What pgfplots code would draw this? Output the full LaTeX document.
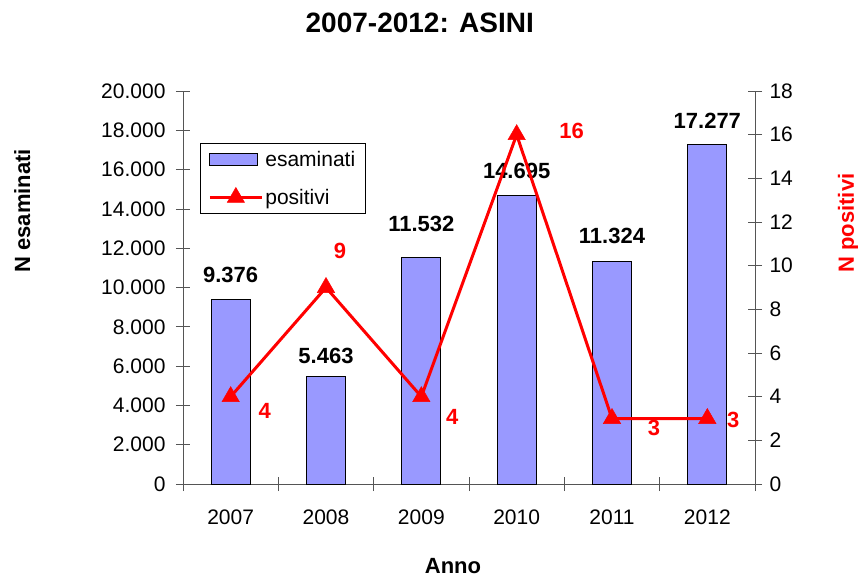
\documentclass[border=0pt]{standalone}
\usepackage{fontspec}
\setmainfont{Liberation Sans}
\usepackage{pgfplots}
\usepackage{pgfplotstable}
\pgfplotsset{compat=1.18}
\definecolor{barblue}{HTML}{9999FF}
\definecolor{axisgray}{HTML}{555555}

% year index, value, label offsets (pt)
\pgfplotstableread{
x y dx dy
0 9376 0 17
1 5463 0 12
2 11532 0 25
3 14695 0 16
4 11324 0 17
5 17277 0 16
}\esaminati

\pgfplotstableread{
x y dx dy
0 4 34 -14
1 9 14 37
2 4 31 -20
3 16 55 4
4 3 42 -9
5 3 26 -1
}\positivi

\pgfplotsset{
  common/.style={
    scale only axis, width=572pt, height=393pt,
    xmin=-0.5, xmax=5.5,
    tick align=center, major tick length=14pt,
    tick style={axisgray, line width=0.8pt},
    axis line style={-, axisgray, line width=0.8pt},
    tick label style={font=\fontsize{21}{25}\selectfont},
    /pgf/number format/assume math mode=true,
  },
  barlegend/.style={legend image code/.code={%
    \draw[##1] (0pt,-6pt) rectangle (48pt,6pt);}},
  linelegend/.style={legend image code/.code={%
    \draw[##1, mark repeat=2, mark phase=2]
      plot coordinates {(0pt,0pt) (26pt,0pt) (52pt,0pt)};}},
}

\begin{document}
\begin{tikzpicture}
\begin{axis}[common,
    axis x line*=bottom, axis y line*=left,
    ymin=0, ymax=20000, ytick={0,2000,...,20000},
    scaled y ticks=false,
    yticklabel style={/pgf/number format/.cd, fixed, 1000 sep={.}},
    yticklabel shift=7pt,
    xtick={-0.5,0.5,...,5.5}, xticklabels={},
    extra x ticks={0,1,2,3,4,5},
    extra x tick labels={2007,2008,2009,2010,2011,2012},
    extra x tick style={major tick length=0pt},
    xticklabel shift=22pt,
    title={\bfseries 2007-2012: ASINI},
    title style={at={(axis description cs:0.414,1.158)}, anchor=center,
      font=\fontsize{28}{32}\selectfont},
    xlabel={\bfseries Anno},
    xlabel style={at={(axis description cs:0.472,-0.208)}, anchor=center,
      font=\fontsize{22}{26}\selectfont},
    ylabel={\bfseries N esaminati},
    ylabel style={at={(axis description cs:-0.281,0.695)}, anchor=center,
      font=\fontsize{22}{26}\selectfont},
    legend style={at={(axis description cs:0.0297,0.8677)}, anchor=north west,
      draw=black, line width=0.8pt, font=\fontsize{21}{25}\selectfont,
      inner xsep=8pt, inner ysep=6pt, row sep=17pt,
      legend cell align=left},
  ]
  \addplot[ybar, bar width=39pt, fill=barblue, draw=black, line width=1pt,
    barlegend,
    visualization depends on={\thisrow{dy} \as \dy},
    nodes near coords={\pgfmathprintnumber[1000 sep={.}]{\pgfplotspointmeta}},
    every node near coord/.style={anchor=south, inner sep=0pt, yshift=\dy pt,
      text=black, font=\fontsize{22}{26}\selectfont\bfseries}]
    table[x=x, y=y] {\esaminati};
  \addlegendentry{esaminati}
  \addlegendimage{red, line width=3pt, mark=triangle*, mark size=10pt,
    mark options={solid, line width=0.5pt}, linelegend}
  \addlegendentry{positivi}
\end{axis}
\begin{axis}[common,
    axis y line*=right, axis x line=none,
    ymin=0, ymax=18, ytick={0,2,...,18},
    yticklabel shift=4pt,
    ylabel={\bfseries N positivi},
    ylabel style={at={(axis description cs:1.163,0.664)}, anchor=center,
      text=red, font=\fontsize{22}{26}\selectfont},
  ]
  \addplot[red, line width=3pt, mark=triangle*, mark size=10pt,
    mark options={solid, line width=0.5pt},
    visualization depends on={\thisrow{dx} \as \dx},
    visualization depends on={\thisrow{dy} \as \dy},
    nodes near coords,
    every node near coord/.style={anchor=center, inner sep=0pt,
      xshift=\dx pt, yshift=\dy pt,
      text=red, font=\fontsize{22}{26}\selectfont\bfseries}]
    table[x=x, y=y] {\positivi};
\end{axis}
\pgfresetboundingbox
\path[use as bounding box] (-183pt,-95pt) rectangle (675pt,484pt);
\end{tikzpicture}
\end{document}
